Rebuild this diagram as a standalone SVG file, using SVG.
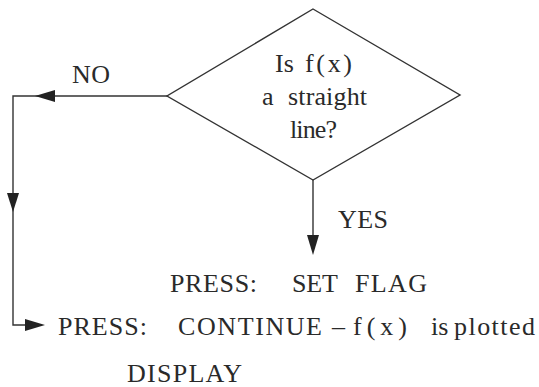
<svg xmlns="http://www.w3.org/2000/svg" width="539" height="387" viewBox="0 0 539 387">
<style>
.ln{fill:none;stroke:#333;stroke-width:1.4}
.ah{fill:#222;stroke:none}
text{font-family:"Liberation Serif","Times New Roman",serif;font-size:26px;fill:#2a2a2a}
</style>
<rect width="539" height="387" fill="#fff"/>
<g id="connectors">
<polyline class="ln" points="167,96 13,96 13,325 40,325"/>
<polygon class="ah" points="35,96 55,90 55,102"/>
<polygon class="ah" points="13,212 7,193 19,193"/>
<polygon class="ah" points="45,325 25,319 25,331"/>
<line class="ln" x1="313" y1="180" x2="313" y2="240"/>
<polygon class="ah" points="313,255 307,235 319,235"/>
<text id="label-no" x="72" y="83" textLength="38" lengthAdjust="spacing">NO</text>
<text id="label-yes" x="338" y="228" textLength="50" lengthAdjust="spacing">YES</text>
</g>
<g id="decision">
<polygon class="ln" points="313,9 460,95 313,180 167,96"/>
<text><tspan x="275" y="72">Is</tspan><tspan x="305" y="72" textLength="47" lengthAdjust="spacing">f(x)</tspan></text>
<text><tspan x="262" y="105">a</tspan><tspan x="288" y="105" textLength="79" lengthAdjust="spacing">straight</tspan></text>
<text x="290" y="138" textLength="47" lengthAdjust="spacing">line?</text>
</g>
<g id="set-flag">
<text><tspan x="170" y="292" textLength="87" lengthAdjust="spacing">PRESS:</tspan><tspan x="292" y="292" textLength="46" lengthAdjust="spacing">SET</tspan><tspan x="355" y="292" textLength="72" lengthAdjust="spacing">FLAG</tspan></text>
</g>
<g id="continue">
<text><tspan x="58" y="335" textLength="89" lengthAdjust="spacing">PRESS:</tspan><tspan x="178" y="335" textLength="144" lengthAdjust="spacing">CONTINUE</tspan><tspan x="332" y="335" textLength="13" lengthAdjust="spacing">–</tspan><tspan x="353" y="335" textLength="54" lengthAdjust="spacing">f(x)</tspan><tspan x="431" y="335">is</tspan><tspan x="454" y="335" textLength="81" lengthAdjust="spacing">plotted</tspan></text>
</g>
<g id="display">
<text x="127" y="382" textLength="115" lengthAdjust="spacing">DISPLAY</text>
</g>
</svg>
